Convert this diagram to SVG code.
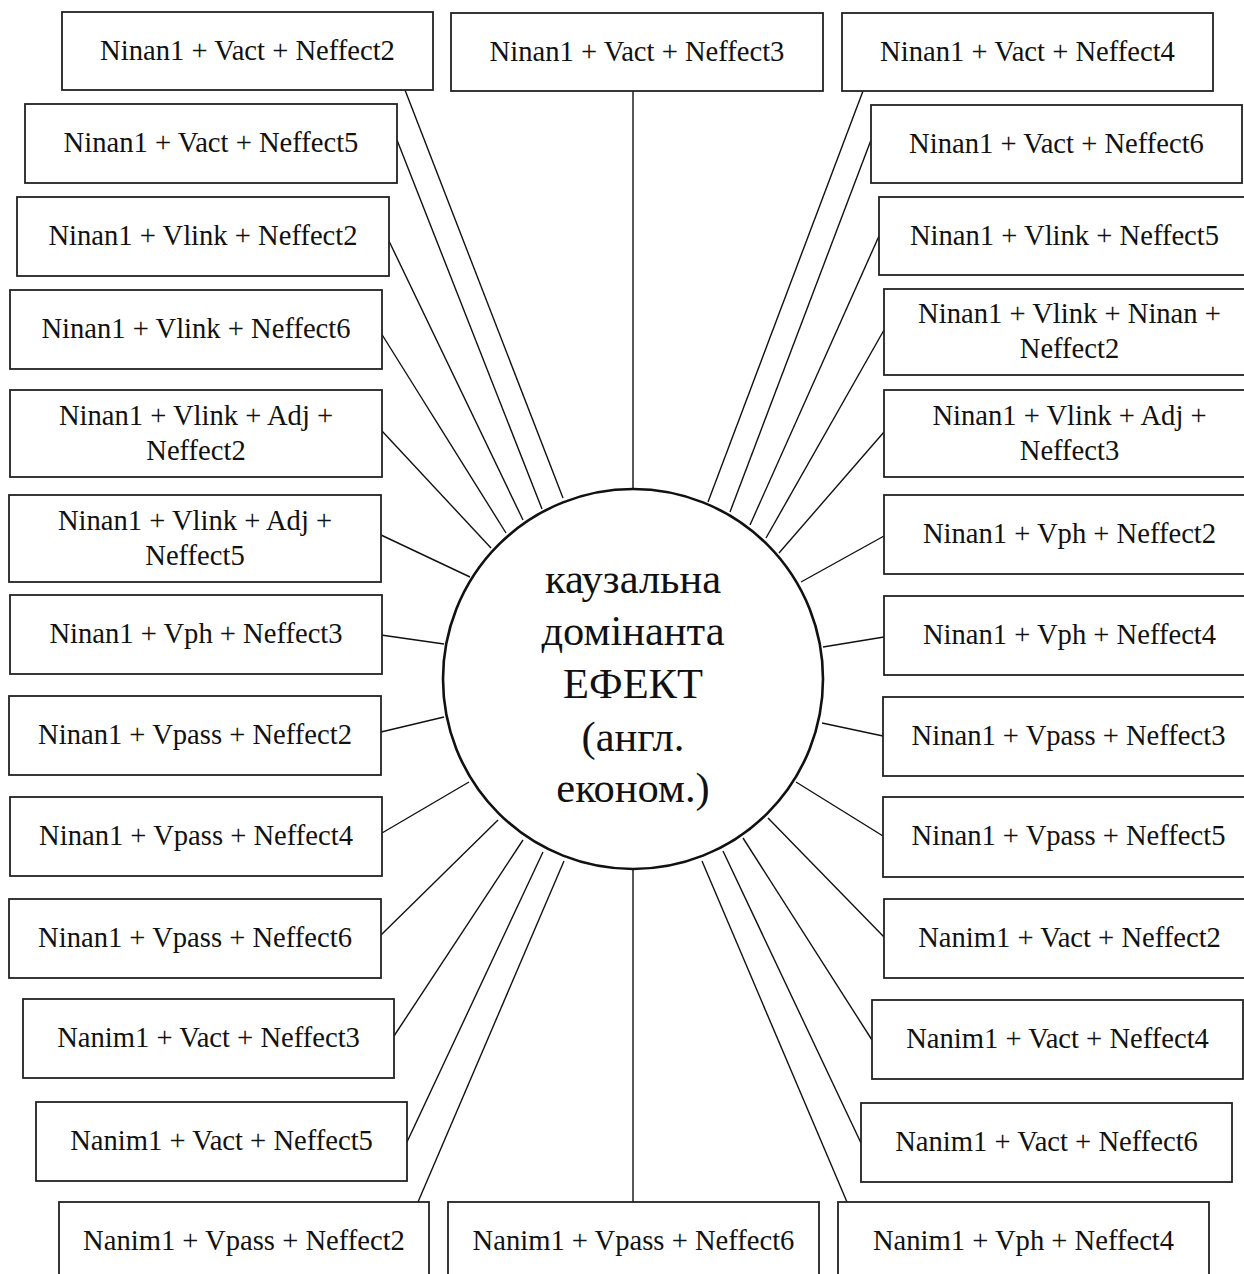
<svg xmlns="http://www.w3.org/2000/svg" width="1244" height="1274" viewBox="0 0 1244 1274">
  <style>
    .box { fill: #ffffff; stroke: #222222; stroke-width: 1.8; }
    .hub { fill: #ffffff; stroke: #111111; stroke-width: 2.6; }
    .lbl { font-family: "Liberation Serif", "Times New Roman", serif; font-size: 28.6px; fill: #111111; text-anchor: middle; }
    .hubtxt { font-family: "Liberation Serif", "Times New Roman", serif; font-size: 42.5px; fill: #111111; text-anchor: middle; }
    .conn line { stroke: #111111; stroke-width: 1.4; }
  </style>
  <rect width="1244" height="1274" fill="#ffffff"/>

  <!-- spokes from each pattern box to the central dominant -->
  <g id="connectors" class="conn">
    <!-- top -->
    <line x1="633" y1="91" x2="633" y2="488"/>
    <!-- upper left fan -->
    <line x1="405" y1="90" x2="563" y2="498"/>
    <line x1="397" y1="140" x2="542" y2="509"/>
    <line x1="388" y1="239" x2="523" y2="520"/>
    <line x1="381" y1="333" x2="506" y2="533"/>
    <line x1="382" y1="431" x2="491" y2="548"/>
    <line x1="381" y1="535" x2="470" y2="577"/>
    <line x1="381" y1="635" x2="444" y2="644"/>
    <!-- lower left fan -->
    <line x1="381" y1="732" x2="444" y2="717"/>
    <line x1="382" y1="833" x2="469" y2="782"/>
    <line x1="381" y1="935" x2="498" y2="820"/>
    <line x1="394" y1="1036" x2="523" y2="840"/>
    <line x1="407" y1="1142" x2="543" y2="852"/>
    <line x1="418" y1="1202" x2="564" y2="861"/>
    <!-- bottom -->
    <line x1="633" y1="870" x2="633" y2="1202"/>
    <!-- upper right fan -->
    <line x1="863" y1="91" x2="708" y2="502"/>
    <line x1="871" y1="140" x2="730" y2="512"/>
    <line x1="879" y1="236" x2="750" y2="525"/>
    <line x1="884" y1="330" x2="766" y2="538"/>
    <line x1="884" y1="432" x2="779" y2="553"/>
    <line x1="884" y1="536" x2="801" y2="582"/>
    <line x1="884" y1="637" x2="823" y2="647"/>
    <!-- lower right fan -->
    <line x1="883" y1="736" x2="822" y2="723"/>
    <line x1="883" y1="836" x2="796" y2="782"/>
    <line x1="884" y1="937" x2="768" y2="818"/>
    <line x1="872" y1="1040" x2="743" y2="838"/>
    <line x1="861" y1="1143" x2="723" y2="851"/>
    <line x1="847" y1="1202" x2="702" y2="861"/>
  </g>

  <!-- central node -->
  <g id="hub">
    <circle class="hub" cx="633" cy="679" r="190"/>
    <text class="hubtxt" x="633" y="593">каузальна</text>
    <text class="hubtxt" x="633" y="645">домінанта</text>
    <text class="hubtxt" x="633" y="698">ЕФЕКТ</text>
    <text class="hubtxt" x="633" y="751">(англ.</text>
    <text class="hubtxt" x="633" y="802">економ.)</text>
  </g>

  <!-- left column -->
  <g id="n-l01"><rect class="box" x="62" y="12" width="371" height="78"/><text class="lbl" x="247.5" y="60">Ninan1 + Vact + Neffect2</text></g>
  <g id="n-l02"><rect class="box" x="25" y="104" width="372" height="79"/><text class="lbl" x="211" y="152">Ninan1 + Vact + Neffect5</text></g>
  <g id="n-l03"><rect class="box" x="17" y="197" width="372" height="79"/><text class="lbl" x="203" y="245">Ninan1 + Vlink + Neffect2</text></g>
  <g id="n-l04"><rect class="box" x="10" y="290" width="372" height="79"/><text class="lbl" x="196" y="338">Ninan1 + Vlink + Neffect6</text></g>
  <g id="n-l05"><rect class="box" x="10" y="390" width="372" height="87"/><text class="lbl" x="196" y="425">Ninan1 + Vlink + Adj +</text><text class="lbl" x="196" y="460">Neffect2</text></g>
  <g id="n-l06"><rect class="box" x="9" y="495" width="372" height="87"/><text class="lbl" x="195" y="530">Ninan1 + Vlink + Adj +</text><text class="lbl" x="195" y="565">Neffect5</text></g>
  <g id="n-l07"><rect class="box" x="10" y="595" width="372" height="79"/><text class="lbl" x="196" y="643">Ninan1 + Vph + Neffect3</text></g>
  <g id="n-l08"><rect class="box" x="9" y="696" width="372" height="79"/><text class="lbl" x="195" y="744">Ninan1 + Vpass + Neffect2</text></g>
  <g id="n-l09"><rect class="box" x="10" y="797" width="372" height="79"/><text class="lbl" x="196" y="845">Ninan1 + Vpass + Neffect4</text></g>
  <g id="n-l10"><rect class="box" x="9" y="899" width="372" height="79"/><text class="lbl" x="195" y="947">Ninan1 + Vpass + Neffect6</text></g>
  <g id="n-l11"><rect class="box" x="23" y="999" width="371" height="79"/><text class="lbl" x="208.5" y="1047">Nanim1 + Vact + Neffect3</text></g>
  <g id="n-l12"><rect class="box" x="36" y="1102" width="371" height="79"/><text class="lbl" x="221.5" y="1150">Nanim1 + Vact + Neffect5</text></g>
  <g id="n-l13"><rect class="box" x="59" y="1202" width="370" height="80"/><text class="lbl" x="244" y="1250">Nanim1 + Vpass + Neffect2</text></g>

  <!-- middle column -->
  <g id="n-top"><rect class="box" x="451" y="13" width="372" height="78"/><text class="lbl" x="637" y="61">Ninan1 + Vact + Neffect3</text></g>
  <g id="n-bottom"><rect class="box" x="448" y="1202" width="371" height="80"/><text class="lbl" x="633.5" y="1250">Nanim1 + Vpass + Neffect6</text></g>

  <!-- right column -->
  <g id="n-r01"><rect class="box" x="842" y="13" width="371" height="78"/><text class="lbl" x="1027.5" y="61">Ninan1 + Vact + Neffect4</text></g>
  <g id="n-r02"><rect class="box" x="871" y="105" width="371" height="78"/><text class="lbl" x="1056.5" y="153">Ninan1 + Vact + Neffect6</text></g>
  <g id="n-r03"><rect class="box" x="879" y="197" width="371" height="78"/><text class="lbl" x="1064.5" y="245">Ninan1 + Vlink + Neffect5</text></g>
  <g id="n-r04"><rect class="box" x="884" y="289" width="371" height="86"/><text class="lbl" x="1069.5" y="323">Ninan1 + Vlink + Ninan +</text><text class="lbl" x="1069.5" y="358">Neffect2</text></g>
  <g id="n-r05"><rect class="box" x="884" y="390" width="371" height="87"/><text class="lbl" x="1069.5" y="425">Ninan1 + Vlink + Adj +</text><text class="lbl" x="1069.5" y="460">Neffect3</text></g>
  <g id="n-r06"><rect class="box" x="884" y="495" width="371" height="79"/><text class="lbl" x="1069.5" y="543">Ninan1 + Vph + Neffect2</text></g>
  <g id="n-r07"><rect class="box" x="884" y="596" width="371" height="79"/><text class="lbl" x="1069.5" y="644">Ninan1 + Vph + Neffect4</text></g>
  <g id="n-r08"><rect class="box" x="883" y="697" width="371" height="79"/><text class="lbl" x="1068.5" y="745">Ninan1 + Vpass + Neffect3</text></g>
  <g id="n-r09"><rect class="box" x="883" y="797" width="371" height="80"/><text class="lbl" x="1068.5" y="845">Ninan1 + Vpass + Neffect5</text></g>
  <g id="n-r10"><rect class="box" x="884" y="899" width="371" height="79"/><text class="lbl" x="1069.5" y="947">Nanim1 + Vact + Neffect2</text></g>
  <g id="n-r11"><rect class="box" x="872" y="1000" width="371" height="79"/><text class="lbl" x="1057.5" y="1048">Nanim1 + Vact + Neffect4</text></g>
  <g id="n-r12"><rect class="box" x="861" y="1103" width="371" height="79"/><text class="lbl" x="1046.5" y="1151">Nanim1 + Vact + Neffect6</text></g>
  <g id="n-r13"><rect class="box" x="838" y="1202" width="371" height="80"/><text class="lbl" x="1023.5" y="1250">Nanim1 + Vph + Neffect4</text></g>
</svg>
